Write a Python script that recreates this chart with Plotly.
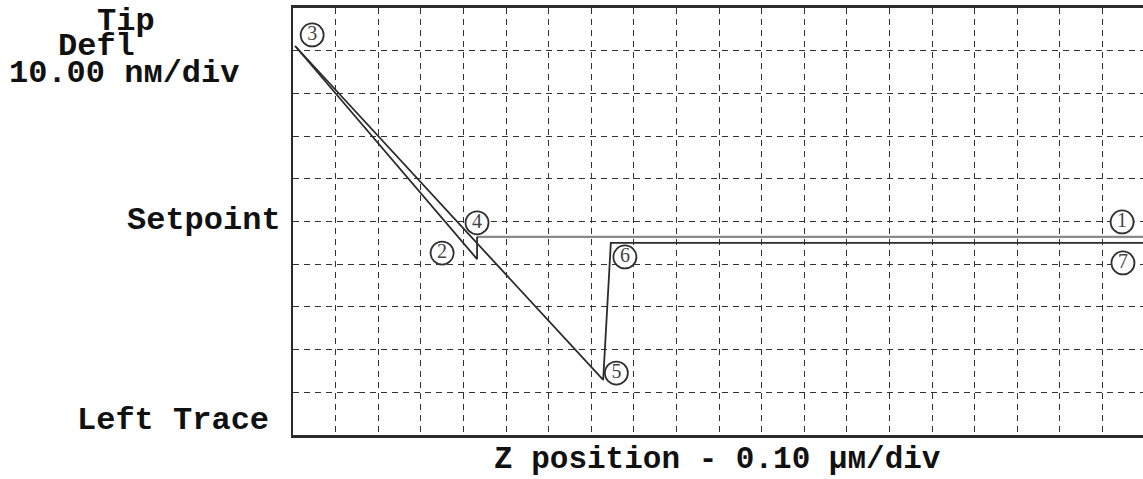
import plotly.graph_objects as go

# Force curve, in screen divisions (x: Z position, y: tip deflection)
approach_free_z = [20.5, 4.32]
approach_free_defl = [4.64, 4.64]
approach_contact_z = [4.32, 4.32, 0.05]
approach_contact_defl = [4.64, 4.12, 9.11]
retract_z = [0.05, 7.28, 7.46, 20.5]
retract_defl = [9.11, 1.29, 4.50, 4.50]

# Circled point labels
label_text = ["1", "2", "3", "4", "5", "6", "7"]
label_z = [19.46, 3.50, 0.45, 4.32, 7.59, 7.79, 19.48]
label_defl = [4.99, 4.26, 9.37, 4.97, 1.45, 4.17, 4.03]

X_MAX = 19.95
Y_MAX = 10
W, H = 1143, 479
ML, MR, MT, MB = 293, 0, 8, 44
PW = W - ML - MR
PH = H - MT - MB

INK = "#2b2b2b"
MONO = "Liberation Mono, Courier New, monospace"

fig = go.Figure()

fig.add_trace(go.Scatter(x=approach_free_z, y=approach_free_defl, mode="lines",
                         line=dict(color="#8a8a8a", width=2.4), hoverinfo="skip"))
fig.add_trace(go.Scatter(x=approach_contact_z, y=approach_contact_defl, mode="lines",
                         line=dict(color=INK, width=1.8), hoverinfo="skip"))
fig.add_trace(go.Scatter(x=retract_z, y=retract_defl, mode="lines",
                         line=dict(color=INK, width=1.8), hoverinfo="skip"))

fig.add_trace(go.Scatter(
    x=label_z, y=label_defl, mode="markers+text",
    marker=dict(symbol="circle", size=23, color="white",
                line=dict(color="#2f2f2f", width=1.8)),
    text=label_text, textposition="middle center",
    textfont=dict(family="Liberation Serif, serif", size=20, color="#444444"),
    hoverinfo="skip", cliponaxis=False))


def px_x(px):
    return (px - ML) / PW


def px_y(py):
    return (H - MB - py) / PH


side_labels = [
    ("Tip", 95, 21),
    ("Defl", 56, 47),
    ("10.00 nм/div", 7, 74),
    ("Setpoint", 125, 220),
    ("Left Trace", 75, 420),
]
annotations = []
for txt, lx, cy in side_labels:
    annotations.append(dict(text="<b>%s</b>" % txt, xref="paper", yref="paper",
                            x=px_x(lx), y=px_y(cy), xanchor="left", yanchor="middle",
                            showarrow=False,
                            font=dict(family=MONO, size=32, color="#111111")))
annotations.append(dict(text="<b>Z position - 0.10 μм/div</b>", xref="paper", yref="paper",
                        x=px_x(717), y=px_y(459), xanchor="center", yanchor="middle",
                        showarrow=False,
                        font=dict(family=MONO, size=31, color="#111111")))

fig.update_layout(
    width=W, height=H,
    margin=dict(l=ML, r=MR, t=MT, b=MB),
    paper_bgcolor="white", plot_bgcolor="white",
    showlegend=False,
    annotations=annotations,
)
fig.update_xaxes(range=[0, X_MAX], dtick=1, tick0=0, showticklabels=False, ticks="",
                 showgrid=True, gridcolor="#333333", gridwidth=1.4, griddash="6px,5px",
                 zeroline=False, showline=True, linecolor=INK, linewidth=2.5, mirror=True)
fig.update_yaxes(range=[0, Y_MAX], dtick=1, tick0=0, showticklabels=False, ticks="",
                 showgrid=True, gridcolor="#333333", gridwidth=1.4, griddash="6px,5px",
                 zeroline=False, showline=True, linecolor=INK, linewidth=2, mirror=False)

fig.write_html("out.html")
